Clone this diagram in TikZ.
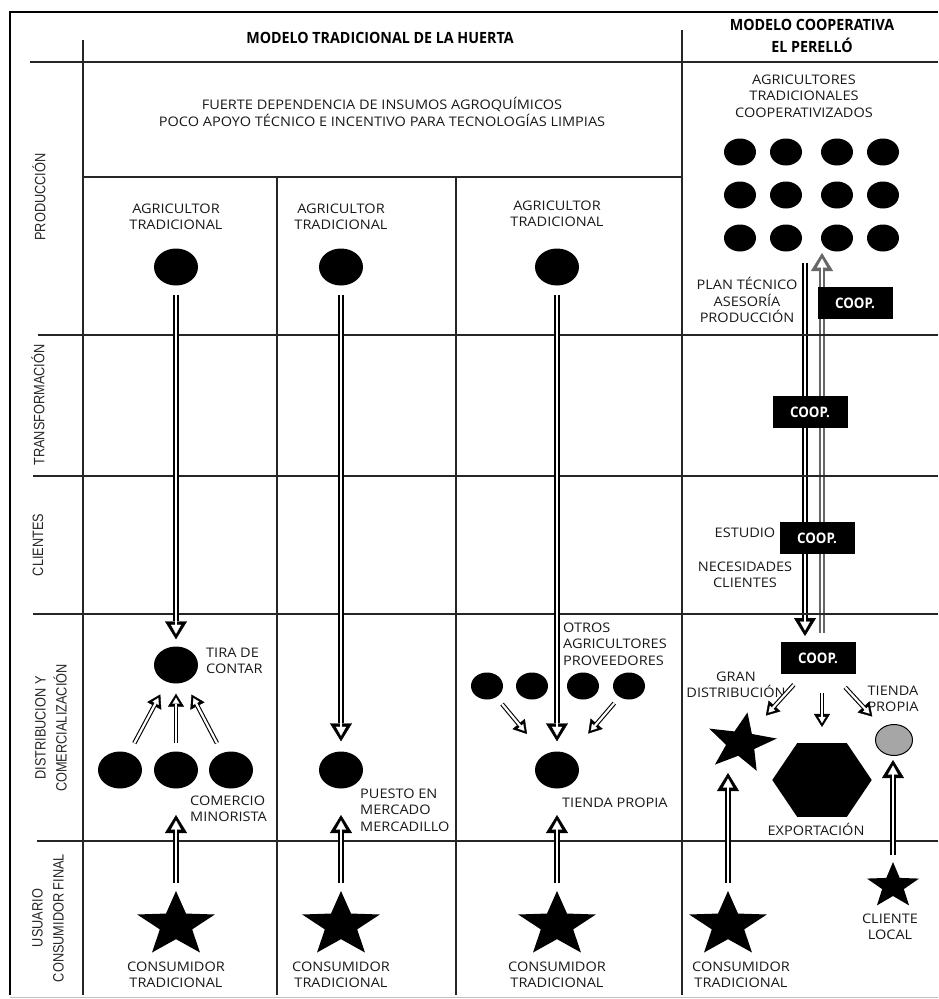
\documentclass[tikz,border=0pt]{standalone}
\usepackage{fontspec}
\setmainfont{Open Sans}[FakeStretch=1.1]
\newfontfamily\rowfont{Liberation Sans}[FakeStretch=0.85]
\newfontfamily\headfont{Open Sans}[FakeStretch=0.92]
\usepackage{tikz}
\usetikzlibrary{arrows.meta,positioning,shapes.geometric}
\pgfdeclarelayer{bg}
\pgfsetlayers{bg,main}

\begin{document}
\begin{tikzpicture}[x=1pt,y=-1pt,
  frame/.style={line width=2.2pt,black},
  grid/.style={line width=1.3pt,black!85},
  body/.style={font=\fontsize{13.2}{16.5}\selectfont,align=center,inner sep=0pt,text=black!90},
  head/.style={font=\headfont\bfseries\fontsize{15.5}{22}\selectfont,align=center,inner sep=0pt},
  rowlbl/.style={font=\rowfont\fontsize{15}{21}\selectfont,rotate=90,align=center,inner sep=0pt,text=black!85},
  dot/.style={ellipse,fill=black,minimum width=44pt,minimum height=37pt,inner sep=0pt},
  dotsm/.style={ellipse,fill=black,minimum width=32pt,minimum height=27pt,inner sep=0pt},
  starb/.style={star,star points=5,star point ratio=2.4,fill=black,inner sep=0pt,minimum size=68pt,xscale=1.2},
  coop/.style={fill=black,text=white,font=\headfont\bfseries\fontsize{14.5}{16}\selectfont,minimum width=75pt,minimum height=32pt,inner sep=0pt},
  hollow/.style={line width=5.2pt,-{Triangle[length=18pt,width=22pt,line width=0.4pt]},
    postaction={draw=white,line width=2.6pt,-{Triangle[length=9pt,width=10pt,line width=0.2pt,sep=5.5pt]}}},
  hollowsm/.style={line width=4.4pt,-{Triangle[length=13pt,width=16pt,line width=0.4pt]},
    postaction={draw=white,line width=2.2pt,-{Triangle[length=6pt,width=7pt,line width=0.2pt,sep=4pt]}}}]
\useasboundingbox (0,0) rectangle (938,999);

% frame and grid
\draw[frame] (10,995) -- (10,12) -- (938,12);
\draw[black!25] (10,997) -- (938,997);
\draw[grid] (83,40) -- (83,995);
\draw[grid] (682,30) -- (682,995);
\draw[grid] (30,62) -- (938,62);
\draw[grid] (83,177) -- (682,177);
\draw[grid] (277,177) -- (277,995);
\draw[grid] (456,177) -- (456,995);
\foreach \y/\x in {335/38,476/33,614/33,841/37}
  \draw[grid] (\x,\y) -- (938,\y);

% row labels
\node[rowlbl] (lprod) at (39,197) {PRODUCCIÓN};
\node[rowlbl] (ltrans) at (38,405) {TRANSFORMACIÓN};
\node[rowlbl] (lcli) at (38,545) {CLIENTES};
\node[rowlbl] (ldist) at (51,728) {DISTRIBUCION Y\\COMERCIALIZACIÓN};
\node[rowlbl] (lusu) at (48,918) {USUARIO\\CONSUMIDOR FINAL};

% headers
\node[head] (htrad) at (380,38) {MODELO TRADICIONAL DE LA HUERTA};
\node[head] (hcoop) at (812,36) {MODELO COOPERATIVA\\EL PERELLÓ};
\node[body] (dep) at (382,112) {FUERTE DEPENDENCIA DE INSUMOS AGROQUÍMICOS\\POCO APOYO TÉCNICO E INCENTIVO PARA TECNOLOGÍAS LIMPIAS};

% column 1
\node[body] (ag1) at (176,217) {AGRICULTOR\\TRADICIONAL};
\node[dot] (a1) at (176,267) {};
\node[dot] (tira) at (176,665) {};
\node[body,anchor=west,align=left] (ltira) at (206,661) {TIRA DE\\CONTAR};
\node[dot] (m1) at (120,770) {};
\node[dot] (m2) at (176,770) {};
\node[dot] (m3) at (231,770) {};
\node[body,anchor=west,align=left] (lcom) at (190,809) {COMERCIO\\MINORISTA};
\node[starb] (s1) at (176,925) {};
\node[body] (c1) at (176,975) {CONSUMIDOR\\TRADICIONAL};

% column 2
\node[body] (ag2) at (341,217) {AGRICULTOR\\TRADICIONAL};
\node[dot] (a2) at (341,267) {};
\node[dot] (pm) at (341,770) {};
\node[body,anchor=west,align=left] (lpm) at (360,810) {PUESTO EN\\MERCADO\\MERCADILLO};
\node[starb] (s2) at (341,925) {};
\node[body] (c2) at (341,975) {CONSUMIDOR\\TRADICIONAL};

% column 3
\node[body] (ag3) at (557,214) {AGRICULTOR\\TRADICIONAL};
\node[dot] (a3) at (557,267) {};
\node[body,anchor=west,align=left] (lotros) at (563,644) {OTROS\\AGRICULTORES\\PROVEEDORES};
\node[dotsm] (o1) at (487,686) {};
\node[dotsm] (o2) at (532,686) {};
\node[dotsm] (o3) at (583,686) {};
\node[dotsm] (o4) at (629,686) {};
\node[dot] (tp) at (557,770) {};
\node[body,anchor=west] (ltp) at (562,803) {TIENDA PROPIA};
\node[starb] (s3) at (557,925) {};
\node[body] (c3) at (557,975) {CONSUMIDOR\\TRADICIONAL};

% cooperative column
\node[body] (agc) at (804,96) {AGRICULTORES\\TRADICIONALES\\COOPERATIVIZADOS};
\foreach \r/\y in {1/152,2/195,3/238}
  \foreach \c/\x in {1/740,2/786,3/837,4/883}
    \node[dotsm] (g\r\c) at (\x,\y) {};
\node[body] (lplan) at (747,300) {PLAN TÉCNICO\\ASESORÍA\\PRODUCCIÓN};
\node[body] (lest) at (745,533) {ESTUDIO};
\node[body] (lnec) at (745,575) {NECESIDADES\\CLIENTES};
\node[coop] (k1) at (855,303) {COOP.};
\node[coop] (k2) at (810,412) {COOP.};
\node[coop] (k3) at (817,538) {COOP.};
\node[coop] (k4) at (818,658) {COOP.};
\coordinate (dtop) at (805,263);
\coordinate (dbot) at (805,636);
\coordinate (utop) at (822,253);
\coordinate (ubot) at (822,633);
\node[body] (lgran) at (736,685) {GRAN\\DISTRIBUCIÓN};
\node[body] (ltp2) at (893,699) {TIENDA\\PROPIA};
\node[starb,minimum size=62pt,rotate=-10,xscale=0.97] (sg) at (741,743) {};
\node[regular polygon,regular polygon sides=6,fill=black,minimum size=85pt,inner sep=0pt,xscale=1.17] (hx) at (822,780) {};
\node[ellipse,draw=black,line width=1pt,fill=black!35,minimum width=37pt,minimum height=31pt,inner sep=0pt] (tp2) at (894,740) {};
\node[body] (lexp) at (816,829) {EXPORTACIÓN};
\node[starb] (s4) at (728,925) {};
\node[body] (c4) at (741,975) {CONSUMIDOR\\TRADICIONAL};
\node[starb,minimum size=48pt,xscale=0.95] (sl) at (893,886) {};
\node[body] (lsl) at (890,927) {CLIENTE\\LOCAL};

\begin{pgfonlayer}{bg}
\draw[hollow] (dtop) -- (dbot);
\draw[hollow,black!60] (ubot) -- (utop);
\end{pgfonlayer}

% arrows
\draw[hollow,shorten <=9pt,shorten >=7pt] (a1) -- (tira);
\draw[hollowsm,shorten <=11pt,shorten >=14pt] (m1) -- (tira);
\draw[hollowsm,shorten <=8pt,shorten >=10pt] (m2) -- (tira);
\draw[hollowsm,shorten <=11pt,shorten >=14pt] (m3) -- (tira);
\draw[hollow,shorten <=42pt,shorten >=45pt] (s1.center) -- (m2.center);
\draw[hollow,shorten <=9pt,shorten >=10pt] (a2) -- (pm);
\draw[hollow,shorten <=42pt,shorten >=45pt] (s2.center) -- (pm.center);
\draw[hollow,shorten <=9pt,shorten >=10pt] (a3) -- (tp);
\draw[hollowsm,shorten <=9pt,shorten >=27pt] (o1) -- (tp);
\draw[hollowsm,shorten <=8pt,shorten >=28pt] (o4) -- (tp);
\draw[hollow,shorten <=42pt,shorten >=45pt] (s3.center) -- (tp.center);
\draw[hollowsm,shorten <=36pt,shorten >=37pt] (k4.center) -- (sg.center);
\draw[hollowsm,shorten <=19pt,shorten >=16pt] (k4.south -| hx.north) -- (hx.north);
\draw[hollowsm,shorten <=40pt,shorten >=32pt] (k4.center) -- (tp2.center);
\draw[hollow,shorten <=42pt,shorten >=30pt] (s4.center) -- (s4.center |- sg.center);
\draw[hollow,shorten <=31pt,shorten >=20pt] (sl.center) -- (sl.center |- tp2.center);
\end{tikzpicture}
\end{document}
